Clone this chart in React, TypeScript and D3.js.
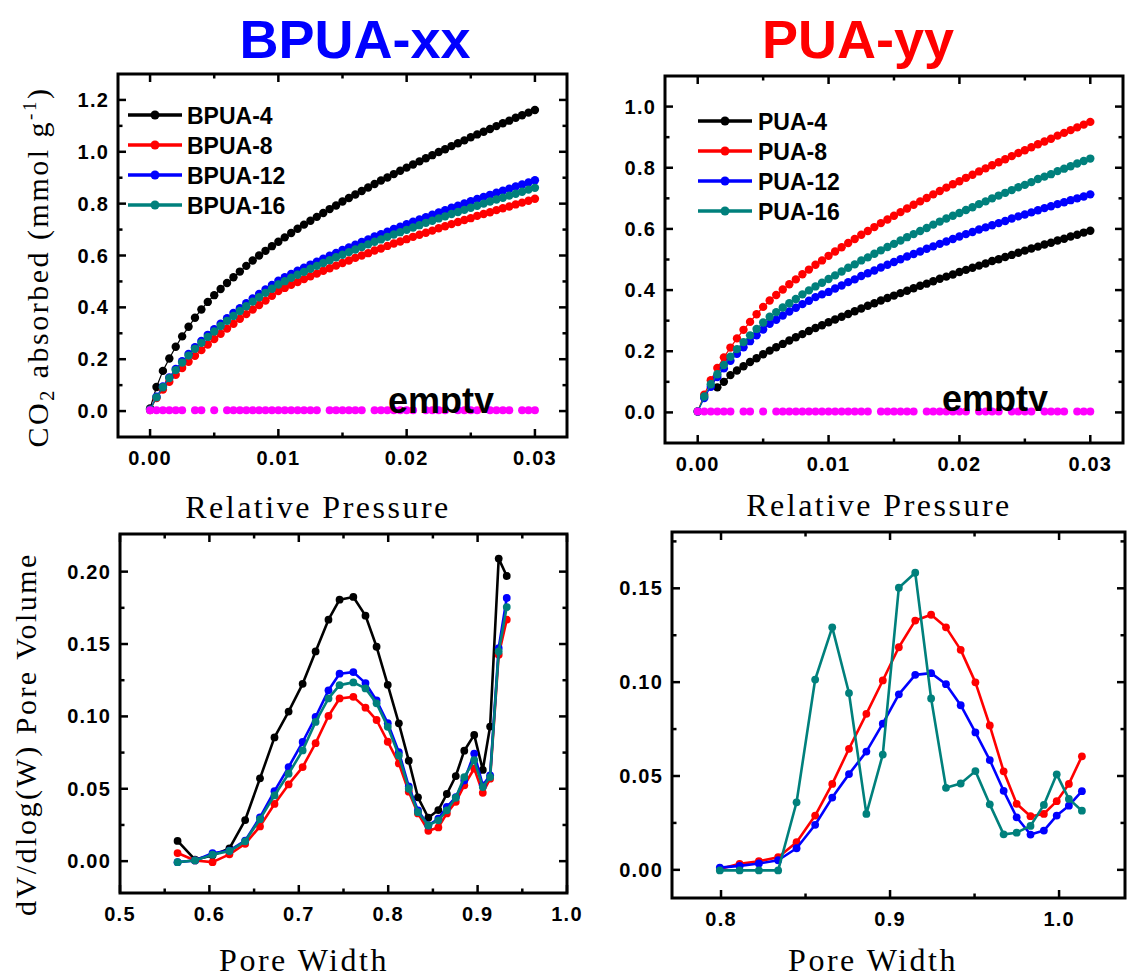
import React from 'react';
import * as d3 from 'd3';

// ---------- DATA ----------
const PRESSURE = [0, 0.0005, 0.001, 0.0015, 0.002, 0.0025, 0.003, 0.0035, 0.004, 0.0045, 0.005, 0.0055, 0.006, 0.0065, 0.007, 0.0075, 0.008, 0.0085, 0.009, 0.0095, 0.01, 0.0105, 0.011, 0.0115, 0.012, 0.0125, 0.013, 0.0135, 0.014, 0.0145, 0.015, 0.0155, 0.016, 0.0165, 0.017, 0.0175, 0.018, 0.0185, 0.019, 0.0195, 0.02, 0.0205, 0.021, 0.0215, 0.022, 0.0225, 0.023, 0.0235, 0.024, 0.0245, 0.025, 0.0255, 0.026, 0.0265, 0.027, 0.0275, 0.028, 0.0285, 0.029, 0.0295, 0.03];

const BPUA4 = [0.01, 0.093, 0.155, 0.203, 0.248, 0.288, 0.325, 0.36, 0.392, 0.421, 0.447, 0.471, 0.494, 0.516, 0.538, 0.56, 0.581, 0.600, 0.618, 0.636, 0.653, 0.670, 0.687, 0.703, 0.719, 0.734, 0.749, 0.764, 0.779, 0.793, 0.808, 0.822, 0.835, 0.849, 0.862, 0.876, 0.889, 0.901, 0.914, 0.927, 0.939, 0.951, 0.963, 0.975, 0.987, 0.999, 1.010, 1.022, 1.033, 1.044, 1.056, 1.067, 1.077, 1.088, 1.099, 1.110, 1.120, 1.131, 1.141, 1.151, 1.161];
const BPUA8 = [0.004, 0.05, 0.083, 0.113, 0.14, 0.166, 0.19, 0.213, 0.235, 0.257, 0.278, 0.298, 0.318, 0.337, 0.356, 0.374, 0.392, 0.409, 0.426, 0.445, 0.463, 0.475, 0.487, 0.498, 0.509, 0.520, 0.530, 0.541, 0.551, 0.561, 0.571, 0.581, 0.591, 0.600, 0.609, 0.619, 0.627, 0.637, 0.646, 0.654, 0.663, 0.672, 0.680, 0.688, 0.696, 0.705, 0.713, 0.721, 0.729, 0.737, 0.744, 0.753, 0.760, 0.767, 0.775, 0.782, 0.789, 0.797, 0.804, 0.811, 0.819];
const BPUA12 = [0.005, 0.055, 0.095, 0.13, 0.162, 0.192, 0.22, 0.246, 0.27, 0.294, 0.316, 0.337, 0.358, 0.378, 0.397, 0.416, 0.434, 0.452, 0.469, 0.486, 0.503, 0.516, 0.529, 0.541, 0.553, 0.565, 0.576, 0.588, 0.599, 0.610, 0.621, 0.631, 0.642, 0.652, 0.662, 0.673, 0.682, 0.692, 0.702, 0.711, 0.721, 0.730, 0.739, 0.748, 0.757, 0.766, 0.775, 0.784, 0.792, 0.801, 0.809, 0.818, 0.826, 0.834, 0.842, 0.850, 0.858, 0.866, 0.874, 0.882, 0.890];
const BPUA16 = [0.005, 0.053, 0.092, 0.127, 0.158, 0.187, 0.214, 0.24, 0.263, 0.286, 0.307, 0.328, 0.348, 0.367, 0.386, 0.404, 0.422, 0.439, 0.456, 0.472, 0.488, 0.501, 0.514, 0.526, 0.537, 0.549, 0.560, 0.571, 0.582, 0.593, 0.603, 0.613, 0.623, 0.633, 0.643, 0.653, 0.662, 0.672, 0.681, 0.690, 0.699, 0.708, 0.717, 0.726, 0.734, 0.743, 0.751, 0.760, 0.768, 0.776, 0.784, 0.792, 0.800, 0.808, 0.816, 0.823, 0.831, 0.838, 0.846, 0.854, 0.861];

const PUA4 = [null, null, null, 0.082, 0.100, 0.122, 0.137, 0.151, 0.165, 0.177, 0.190, 0.202, 0.213, 0.224, 0.235, 0.246, 0.256, 0.266, 0.276, 0.285, 0.295, 0.304, 0.313, 0.322, 0.331, 0.340, 0.349, 0.357, 0.366, 0.374, 0.382, 0.390, 0.398, 0.406, 0.414, 0.421, 0.429, 0.437, 0.444, 0.451, 0.459, 0.466, 0.473, 0.480, 0.487, 0.495, 0.501, 0.508, 0.515, 0.522, 0.529, 0.536, 0.542, 0.549, 0.555, 0.562, 0.568, 0.575, 0.581, 0.588, 0.594];
const PUA8 = [0.003, 0.058, 0.105, 0.145, 0.18, 0.212, 0.242, 0.27, 0.296, 0.321, 0.345, 0.366, 0.384, 0.402, 0.419, 0.435, 0.452, 0.467, 0.483, 0.497, 0.512, 0.526, 0.540, 0.554, 0.567, 0.581, 0.593, 0.606, 0.619, 0.631, 0.643, 0.655, 0.667, 0.679, 0.690, 0.701, 0.713, 0.724, 0.735, 0.746, 0.756, 0.767, 0.777, 0.788, 0.798, 0.808, 0.818, 0.828, 0.838, 0.848, 0.857, 0.867, 0.877, 0.886, 0.895, 0.905, 0.914, 0.923, 0.932, 0.941, 0.950];
const PUA12 = [0.003, 0.047, 0.084, 0.116, 0.144, 0.169, 0.192, 0.213, 0.233, 0.252, 0.271, 0.290, 0.303, 0.317, 0.330, 0.342, 0.354, 0.365, 0.377, 0.386, 0.394, 0.405, 0.415, 0.426, 0.435, 0.446, 0.455, 0.464, 0.474, 0.483, 0.492, 0.501, 0.510, 0.518, 0.526, 0.535, 0.543, 0.551, 0.559, 0.567, 0.575, 0.583, 0.590, 0.598, 0.605, 0.612, 0.619, 0.626, 0.634, 0.641, 0.647, 0.654, 0.661, 0.668, 0.674, 0.681, 0.687, 0.694, 0.700, 0.706, 0.713];
const PUA16 = [0.003, 0.052, 0.092, 0.125, 0.155, 0.182, 0.207, 0.23, 0.252, 0.273, 0.294, 0.313, 0.328, 0.343, 0.357, 0.371, 0.386, 0.399, 0.412, 0.424, 0.436, 0.448, 0.461, 0.473, 0.484, 0.497, 0.507, 0.519, 0.530, 0.541, 0.551, 0.562, 0.573, 0.583, 0.593, 0.603, 0.614, 0.624, 0.634, 0.643, 0.652, 0.662, 0.671, 0.681, 0.690, 0.700, 0.709, 0.718, 0.727, 0.736, 0.744, 0.753, 0.763, 0.771, 0.779, 0.789, 0.797, 0.805, 0.814, 0.822, 0.830];

// "empty" reference series (points present only where measured)
const EMPTY_P = [0, 0.0005, 0.001, 0.0015, 0.002, 0.0025, 0.0035, 0.004, 0.005, 0.006, 0.0065, 0.007, 0.0075, 0.008, 0.0085, 0.009, 0.0095, 0.01, 0.0105, 0.011, 0.0115, 0.012, 0.0125, 0.013, 0.014, 0.0145, 0.015, 0.0155, 0.016, 0.0165, 0.0175, 0.018, 0.0185, 0.019, 0.0195, 0.02, 0.0205, 0.0215, 0.022, 0.0225, 0.023, 0.024, 0.0245, 0.025, 0.0255, 0.0265, 0.027, 0.0275, 0.028, 0.029, 0.0295, 0.03];
const EMPTY_V = [0.003, 0.003, 0.003, 0.003, 0.003, 0.003, 0.003, 0.003, 0.003, 0.003, 0.003, 0.003, 0.003, 0.003, 0.003, 0.003, 0.003, 0.003, 0.003, 0.003, 0.003, 0.003, 0.003, 0.003, 0.003, 0.003, 0.003, 0.003, 0.003, 0.003, 0.003, 0.003, 0.003, 0.003, 0.003, 0.003, 0.003, 0.003, 0.003, 0.003, 0.003, 0.003, 0.003, 0.003, 0.003, 0.003, 0.003, 0.003, 0.003, 0.003, 0.003, 0.003];

// Pore size distributions
const BPUA_WIDTH = [0.5644, 0.5839, 0.6035, 0.6224, 0.640, 0.6566, 0.6728, 0.6886, 0.7043, 0.7188, 0.7332, 0.7456, 0.761, 0.7746, 0.787, 0.7995, 0.8119, 0.823, 0.8333, 0.8449, 0.8561, 0.8656, 0.8756, 0.8851, 0.8962, 0.9058, 0.914, 0.9236, 0.9326];
const BPUA4_PSD = [0.0140, 0.0011, 0.004, 0.0088, 0.0284, 0.0572, 0.0855, 0.1033, 0.1225, 0.1449, 0.1668, 0.1806, 0.1825, 0.1696, 0.1481, 0.1218, 0.0952, 0.0694, 0.0441, 0.030, 0.0353, 0.0464, 0.0588, 0.0763, 0.0872, 0.0630, 0.0930, 0.2090, 0.1970];
const BPUA8_PSD = [0.0056, 0.0005, -0.0007, 0.0047, 0.012, 0.024, 0.0395, 0.053, 0.065, 0.0815, 0.1003, 0.1124, 0.1135, 0.106, 0.0975, 0.0825, 0.0675, 0.048, 0.033, 0.021, 0.0233, 0.033, 0.041, 0.0524, 0.064, 0.0472, 0.057, 0.1426, 0.1668];
const BPUA12_PSD = [-0.0007, 0.0005, 0.0055, 0.0073, 0.0142, 0.0303, 0.0483, 0.065, 0.0823, 0.0996, 0.118, 0.1295, 0.1306, 0.123, 0.111, 0.0953, 0.0753, 0.0516, 0.035, 0.0247, 0.0293, 0.0374, 0.0443, 0.0558, 0.0743, 0.0524, 0.0593, 0.1472, 0.1818];
const BPUA16_PSD = [-0.0007, 0.0005, 0.0045, 0.007, 0.0137, 0.029, 0.0454, 0.0604, 0.0765, 0.0962, 0.1124, 0.1216, 0.1235, 0.1193, 0.109, 0.0928, 0.073, 0.050, 0.0338, 0.0247, 0.0282, 0.0351, 0.0438, 0.0581, 0.0697, 0.0512, 0.0581, 0.1449, 0.1755];

const PUA_WIDTH = [0.7993, 0.811, 0.8224, 0.8338, 0.8447, 0.8557, 0.8658, 0.8757, 0.886, 0.8957, 0.9052, 0.9149, 0.9243, 0.9331, 0.9418, 0.9505, 0.959, 0.9672, 0.9749, 0.9831, 0.991, 0.9986, 1.0058, 1.0135];
const PUA8_PSD = [0.0005, 0.0032, 0.0046, 0.0067, 0.0147, 0.0289, 0.0458, 0.0645, 0.0831, 0.1009, 0.1186, 0.1328, 0.1359, 0.1292, 0.1172, 0.0999, 0.0769, 0.0525, 0.0352, 0.0286, 0.0298, 0.0366, 0.0458, 0.0605];
const PUA12_PSD = [0.0012, 0.0021, 0.0034, 0.0051, 0.0115, 0.024, 0.0385, 0.0510, 0.063, 0.0779, 0.0935, 0.1039, 0.1048, 0.0989, 0.0877, 0.0732, 0.0585, 0.0421, 0.028, 0.0188, 0.0209, 0.0289, 0.0342, 0.0419];
const PUA16_PSD = [-0.0003, -0.0003, -0.0003, -0.0003, 0.036, 0.1014, 0.1292, 0.0942, 0.0298, 0.0614, 0.1503, 0.1583, 0.0913, 0.0437, 0.046, 0.0526, 0.0349, 0.0189, 0.0198, 0.0234, 0.0346, 0.0509, 0.0378, 0.0315];

// Tick values
const P_TICKS = [0, 0.01, 0.02, 0.03];
const TL_Y_TICKS = [0, 0.2, 0.4, 0.6, 0.8, 1.0, 1.2];
const TR_Y_TICKS = [0, 0.2, 0.4, 0.6, 0.8, 1.0];
const BL_X_TICKS = [0.5, 0.6, 0.7, 0.8, 0.9, 1.0];
const BL_Y_TICKS = [0, 0.05, 0.10, 0.15, 0.20];
const BR_X_TICKS = [0.8, 0.9, 1.0];
const BR_Y_TICKS = [0, 0.05, 0.10, 0.15];

const BLACK = '#000000';
const RED = '#ff0000';
const BLUE = '#0000ff';
const TEAL = '#00807c';
const MAGENTA = '#ff00ff';

const SANS = '"Liberation Sans", Arial, Helvetica, sans-serif';
const SERIF = '"Liberation Serif", "Times New Roman", Times, serif';

type Series = { name: string; color: string; x: number[]; y: (number | null)[] };

type PanelProps = {
  frame: { l: number; r: number; t: number; b: number };
  xDomain: [number, number];
  yDomain: [number, number];
  xTicks: number[];
  xMinor: number[];
  yTicks: number[];
  yMinor: number[];
  xDigits: number;
  yDigits: number;
  series: Series[];
  r: number;
  lw: number;
  children?: React.ReactNode;
};

function Panel(p: PanelProps) {
  const { frame: f } = p;
  const x = d3.scaleLinear().domain(p.xDomain).range([f.l, f.r]);
  const y = d3.scaleLinear().domain(p.yDomain).range([f.b, f.t]);
  const MAJ = 8;
  const MIN = 4.5;
  const line = d3
    .line<[number, number | null]>()
    .defined((d) => d[1] != null)
    .x((d) => x(d[0]))
    .y((d) => y(d[1] as number));
  return (
    <g>
      {p.series.map((s) => {
        const pts: [number, number | null][] = s.x.map((v, i) => [v, s.y[i]]);
        return (
          <g key={s.name}>
            <path d={line(pts) || ''} fill="none" stroke={s.color} strokeWidth={p.lw} strokeLinejoin="round" />
            {pts
              .filter((d) => d[1] != null)
              .map((d, i) => (
                <circle key={i} cx={x(d[0])} cy={y(d[1] as number)} r={p.r} fill={s.color} />
              ))}
          </g>
        );
      })}
      {p.children}
      {/* ticks */}
      <g stroke="#000" strokeWidth={2.5}>
        {p.xTicks.map((t) => (
          <g key={'xt' + t}>
            <line x1={x(t)} x2={x(t)} y1={f.b} y2={f.b - MAJ} />
            <line x1={x(t)} x2={x(t)} y1={f.t} y2={f.t + MAJ} />
          </g>
        ))}
        {p.xMinor.map((t) => (
          <g key={'xm' + t}>
            <line x1={x(t)} x2={x(t)} y1={f.b} y2={f.b - MIN} />
            <line x1={x(t)} x2={x(t)} y1={f.t} y2={f.t + MIN} />
          </g>
        ))}
        {p.yTicks.map((t) => (
          <g key={'yt' + t}>
            <line x1={f.l} x2={f.l + MAJ} y1={y(t)} y2={y(t)} />
            <line x1={f.r} x2={f.r - MAJ} y1={y(t)} y2={y(t)} />
          </g>
        ))}
        {p.yMinor.map((t) => (
          <g key={'ym' + t}>
            <line x1={f.l} x2={f.l + MIN} y1={y(t)} y2={y(t)} />
            <line x1={f.r} x2={f.r - MIN} y1={y(t)} y2={y(t)} />
          </g>
        ))}
      </g>
      <rect x={f.l} y={f.t} width={f.r - f.l} height={f.b - f.t} fill="none" stroke="#000" strokeWidth={3} />
      <g fontFamily={SANS} fontWeight="bold" fontSize={20} letterSpacing={1.2} fill="#000">
        {p.xTicks.map((t) => (
          <text key={'xl' + t} x={x(t)} y={f.b + 28} textAnchor="middle">
            {t.toFixed(p.xDigits)}
          </text>
        ))}
        {p.yTicks.map((t) => (
          <text key={'yl' + t} x={f.l - 9} y={y(t) + 7} textAnchor="end">
            {t.toFixed(p.yDigits)}
          </text>
        ))}
      </g>
    </g>
  );
}

function Legend({ items, x0, y0, text }: { items: Series[]; x0: number; y0: number; text: number }) {
  return (
    <g>
      {items.map((s, i) => {
        const yy = y0 + i * 30;
        return (
          <g key={s.name}>
            <line x1={x0} x2={x0 + 54} y1={yy} y2={yy} stroke={s.color} strokeWidth={3.5} />
            <circle cx={x0 + 27} cy={yy} r={4.5} fill={s.color} />
            <text x={text} y={yy + 8.5} fontFamily={SANS} fontWeight="bold" fontSize={23} fill="#000">
              {s.name}
            </text>
          </g>
        );
      })}
    </g>
  );
}

export default function App() {
  const tl: Series[] = [
    { name: 'BPUA-4', color: BLACK, x: PRESSURE, y: BPUA4 },
    { name: 'BPUA-8', color: RED, x: PRESSURE, y: BPUA8 },
    { name: 'BPUA-12', color: BLUE, x: PRESSURE, y: BPUA12 },
    { name: 'BPUA-16', color: TEAL, x: PRESSURE, y: BPUA16 },
  ];
  const tr: Series[] = [
    { name: 'PUA-4', color: BLACK, x: PRESSURE, y: PUA4 },
    { name: 'PUA-8', color: RED, x: PRESSURE, y: PUA8 },
    { name: 'PUA-12', color: BLUE, x: PRESSURE, y: PUA12 },
    { name: 'PUA-16', color: TEAL, x: PRESSURE, y: PUA16 },
  ];
  const bl: Series[] = [
    { name: 'BPUA-4', color: BLACK, x: BPUA_WIDTH, y: BPUA4_PSD },
    { name: 'BPUA-8', color: RED, x: BPUA_WIDTH, y: BPUA8_PSD },
    { name: 'BPUA-12', color: BLUE, x: BPUA_WIDTH, y: BPUA12_PSD },
    { name: 'BPUA-16', color: TEAL, x: BPUA_WIDTH, y: BPUA16_PSD },
  ];
  const br: Series[] = [
    { name: 'PUA-8', color: RED, x: PUA_WIDTH, y: PUA8_PSD },
    { name: 'PUA-12', color: BLUE, x: PUA_WIDTH, y: PUA12_PSD },
    { name: 'PUA-16', color: TEAL, x: PUA_WIDTH, y: PUA16_PSD },
  ];
  const empty: Series = { name: 'empty', color: MAGENTA, x: EMPTY_P, y: EMPTY_V };

  const TLF = { l: 118, r: 567, t: 74, b: 437 };
  const TRF = { l: 665, r: 1123, t: 76, b: 443 };
  const BLF = { l: 120, r: 567, t: 534, b: 893 };
  const BRF = { l: 672, r: 1125, t: 532, b: 898 };

  const emptyDots = (f: { l: number; r: number; t: number; b: number }, yd: [number, number]) => {
    const x = d3.scaleLinear().domain([-0.0025, 0.0325]).range([f.l, f.r]);
    const y = d3.scaleLinear().domain(yd).range([f.b, f.t]);
    return empty.x.map((v, i) => <circle key={i} cx={x(v)} cy={y(empty.y[i] as number)} r={4} fill={MAGENTA} />);
  };

  return (
    <svg width={1128} height={980} style={{ position: 'absolute', left: 0, top: 0, background: '#fff' }}>
      <defs>
        <clipPath id="clipE1">
          <rect x={380} y={370} width={130} height={43} />
        </clipPath>
        <clipPath id="clipE2">
          <rect x={935} y={370} width={130} height={41} />
        </clipPath>
      </defs>
      <rect x={0} y={0} width={1128} height={980} fill="#fff" />

      <text x={355} y={58} textAnchor="middle" fontFamily={SANS} fontWeight="bold" fontSize={54} fill="#0000ff">BPUA-xx</text>
      <text x={858} y={58} textAnchor="middle" fontFamily={SANS} fontWeight="bold" fontSize={54} fill="#ff0000">PUA-yy</text>

      {/* Top-left */}
      <Panel frame={TLF} xDomain={[-0.0025, 0.0325]} yDomain={[-0.1, 1.3]} xTicks={P_TICKS} xMinor={[0.005, 0.015, 0.025]}
        yTicks={TL_Y_TICKS} yMinor={[0.1, 0.3, 0.5, 0.7, 0.9, 1.1]} xDigits={2} yDigits={1} series={tl} r={4.2} lw={1.2}>
        {emptyDots(TLF, [-0.1, 1.3])}
        <text x={388} y={413} fontFamily={SANS} fontWeight="bold" fontSize={36} fill="#000" clipPath="url(#clipE1)">empty</text>
      </Panel>
      <Legend items={tl} x0={128} y0={115} text={187} />

      {/* Top-right */}
      <Panel frame={TRF} xDomain={[-0.0025, 0.0325]} yDomain={[-0.1, 1.1]} xTicks={P_TICKS} xMinor={[0.005, 0.015, 0.025]}
        yTicks={TR_Y_TICKS} yMinor={[0.1, 0.3, 0.5, 0.7, 0.9]} xDigits={2} yDigits={1} series={tr} r={4.2} lw={1.2}>
        {emptyDots(TRF, [-0.1, 1.1])}
        <text x={942} y={411} fontFamily={SANS} fontWeight="bold" fontSize={36} fill="#000" clipPath="url(#clipE2)">empty</text>
      </Panel>
      <Legend items={tr} x0={698} y0={121} text={758} />

      {/* Bottom-left */}
      <Panel frame={BLF} xDomain={[0.5, 1.0]} yDomain={[-0.022, 0.226]} xTicks={BL_X_TICKS} xMinor={[0.55, 0.65, 0.75, 0.85, 0.95]}
        yTicks={BL_Y_TICKS} yMinor={[0.025, 0.075, 0.125, 0.175]} xDigits={1} yDigits={2} series={bl} r={3.9} lw={2.6} />

      {/* Bottom-right */}
      <Panel frame={BRF} xDomain={[0.771, 1.039]} yDomain={[-0.015, 0.18]} xTicks={BR_X_TICKS} xMinor={[0.85, 0.95]}
        yTicks={BR_Y_TICKS} yMinor={[0.025, 0.075, 0.125, 0.175]} xDigits={1} yDigits={2} series={br} r={3.9} lw={2.6} />

      {/* Axis titles */}
      <g fontFamily={SERIF} fontSize={32} letterSpacing={2.5} fill="#000" textAnchor="middle">
        <text x={318} y={518}>Relative Pressure</text>
        <text x={879} y={516}>Relative Pressure</text>
        <text x={304} y={971}>Pore Width</text>
        <text x={873} y={971}>Pore Width</text>
      </g>
      <g fontFamily={SERIF} fontSize={30} letterSpacing={2.5} fill="#000">
        <text transform="translate(48,267) rotate(-90)" textAnchor="middle">
          CO<tspan fontSize={20} dy={6}>2</tspan>
          <tspan dy={-6}> absorbed (mmol g</tspan>
          <tspan fontSize={19} dy={-12}>-1</tspan>
          <tspan dy={12}>)</tspan>
        </text>
        <text transform="translate(36,734) rotate(-90)" textAnchor="middle">dV/dlog(W) Pore Volume</text>
      </g>
    </svg>
  );
}
